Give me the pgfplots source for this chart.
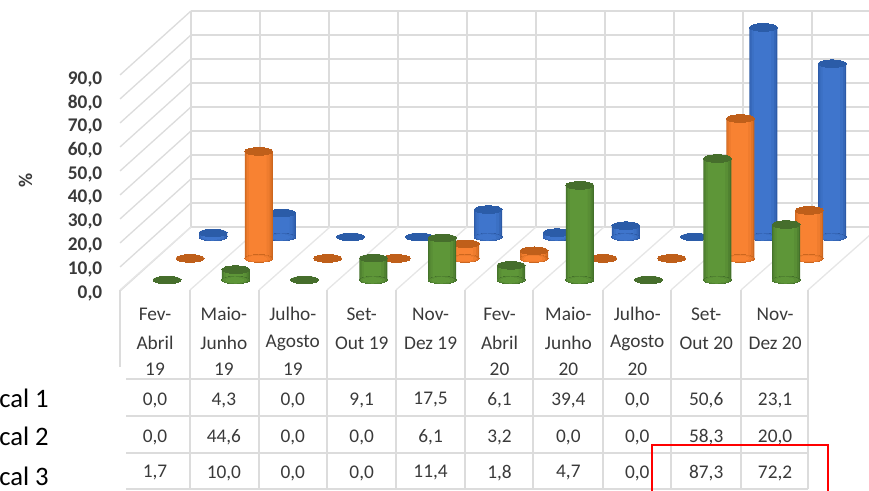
\documentclass[border=0pt]{standalone}
\usepackage{fontspec}
\setmainfont{Carlito}
\usepackage{pgfplots}
\usepackage{pgfplotstable}
\pgfplotsset{compat=1.18}

% Survey percentages per period: Local 1, Local 2, Local 3
\pgfplotstableread{
i  a     b     c
0  0.0   0.0   1.7
1  4.3   44.6  10.0
2  0.0   0.0   0.0
3  9.1   0.0   0.0
4  17.5  6.1   11.4
5  6.1   3.2   1.8
6  39.4  0.0   4.7
7  0.0   0.0   0.0
8  50.6  58.3  87.3
9  23.1  20.0  72.2
}\surveydata

\definecolor{gridc}{HTML}{DCDCDC}
\definecolor{floorc}{HTML}{E6E6E6}
\definecolor{txt}{HTML}{3A3A3A}
\definecolor{bTop}{HTML}{2B5CA8}\definecolor{bDark}{HTML}{2C5AA6}\definecolor{bMid}{HTML}{3F75CC}
\definecolor{oTop}{HTML}{BF5F1A}\definecolor{oDark}{HTML}{CC661E}\definecolor{oMid}{HTML}{F88232}
\definecolor{gTop}{HTML}{466E2C}\definecolor{gDark}{HTML}{43702A}\definecolor{gMid}{HTML}{5E9638}

\pgfplotsset{
  layer/.style={
    scale only axis, width=516pt, height=162pt,
    xmin=-0.5, xmax=9.5, ymin=0, ymax=90,
    hide axis, clip=false, anchor=south west},
}
% One concentric slice of a cylinder row: column, colour, full width, sideways shift
\newcommand{\slice}[4]{%
  \addplot[only marks, mark=*, mark size=#3/2,
    mark options={yscale=0.27, xshift=#4, fill=#2, draw=#2, line width=0pt}]
    table[x=i, y expr=0] {\surveydata};
  \addplot[ybar, bar shift=#4, bar width=#3, draw=none, fill=#2,
    y filter/.expression={y==0 ? nan : y}]
    table[x=i, y=#1] {\surveydata};
}
% A whole depth row: column, edge colour, body colour, lid colour
\newcommand{\cylinders}[4]{%
  \slice{#1}{#2}{21pt}{0pt}
  \slice{#1}{#2!55!#3}{19.5pt}{-0.2pt}
  \slice{#1}{#2!20!#3}{17pt}{-0.4pt}
  \slice{#1}{#3}{13pt}{-0.7pt}
  \addplot[only marks, mark=*, mark size=10.5pt,
    mark options={yscale=0.27, fill=#4, draw=#4, line width=0pt}]
    table[x=i, y=#1] {\surveydata};
}

\begin{document}
\begin{tikzpicture}
\path[use as bounding box] (0,0) rectangle (651.75pt,368.25pt);

% Walls and floor, in a 869 x 491 grid measured from the top left corner
\begin{scope}[x=0.75pt, y=-0.75pt, yshift=368.25pt, gridc, line width=1pt]
  \foreach \k in {0,...,9} {
    \draw (191,{11+24*\k}) -- (869,{11+24*\k});
    \draw (120,{75+24*\k}) -- (191,{11+24*\k});
  }
  \foreach \k in {0,...,9}
    \draw ({191+69*\k},11) -- ({191+69*\k},227);
  \clip (0,0) rectangle (869,491);
  \foreach \x in {120,190,259,327,396,465,533,603,671,741,808}
    \draw[floorc] (\x,290) -- ++(71,-63);
  \draw (120,290) -- (120,367);
  \foreach \x in {190,259,327,396,465,533,603,671,741,808}
    \draw (\x,290) -- (\x,489);
  \foreach \y in {379,416,453,489}
    \draw (126,\y) -- (808,\y);
\end{scope}

% Value axis with its tick labels
\begin{axis}[
  scale only axis, width=1pt, height=160.5pt,
  at={(80.25pt,148.5pt)}, anchor=south west,
  xmin=0, xmax=1, ymin=0, ymax=90,
  axis x line=none, axis y line=left, axis line style={draw=none},
  major tick length=0pt, xtick=\empty,
  ytick={0,10,...,90},
  /pgf/number format/.cd, use comma, fixed, fixed zerofill, precision=1, assume math mode=true,
  /pgfplots/.cd,
  yticklabel style={font=\fontsize{14.5}{15}\selectfont\bfseries, text=txt},
  ylabel={\%},
  every axis y label/.style={at={(rel axis cs:0,0.5)}, xshift=-61pt, yshift=4pt,
    rotate=90, anchor=center, font=\fontsize{14.5}{15}\selectfont\bfseries, text=txt},
]
\addplot[draw=none] coordinates {(0,0) (1,90)};
\end{axis}

% Rear row: Local 3
\begin{axis}[layer, at={(133.95pt,190.5pt)}]
\cylinders{c}{bDark}{bMid}{bTop}
\end{axis}
% Middle row: Local 2
\begin{axis}[layer, at={(116.7pt,174.4pt)}]
\cylinders{b}{oDark}{oMid}{oTop}
\end{axis}
% Front row: Local 1
\begin{axis}[layer, at={(99.45pt,158.25pt)}]
\cylinders{a}{gDark}{gMid}{gTop}
\end{axis}

% Period names and the table of values
\begin{scope}[x=0.75pt, y=-0.75pt, yshift=368.25pt,
    nodes={font=\fontsize{14.5}{15}\selectfont, text=txt, inner sep=0pt, anchor=center},
    /pgf/number format/.cd, use comma, fixed, fixed zerofill, precision=1, assume math mode=true]
  \foreach \c/\l/\m/\n [count=\i from 0] in {
      Fev-/Abril/19, Maio-/Junho/19, Julho-/Agosto/19, Set-/Out 19/, Nov-/Dez 19/,
      Fev-/Abril/20, Maio-/Junho/20, Julho-/Agosto/20, Set-/Out 20/, Nov-/Dez 20/} {
    \path ({155+68.9*\i},314) node {\c} ({155+68.9*\i},343) node {\l} ({155+68.9*\i},369) node {\m};
  }
  \foreach \v [count=\i from 0] in {0.0,4.3,0.0,9.1,17.5,6.1,39.4,0.0,50.6,23.1}
    \path ({155+68.9*\i},400) node {\pgfmathprintnumber{\v}};
  \foreach \v [count=\i from 0] in {0.0,44.6,0.0,0.0,6.1,3.2,0.0,0.0,58.3,20.0}
    \path ({155+68.9*\i},437) node {\pgfmathprintnumber{\v}};
  \foreach \v [count=\i from 0] in {1.7,10.0,0.0,0.0,11.4,1.8,4.7,0.0,87.3,72.2}
    \path ({155+68.9*\i},473) node {\pgfmathprintnumber{\v}};

  \foreach \y/\t in {398/cal 1, 436/cal 2, 476/cal 3}
    \node[anchor=west, text=black, font=\fontsize{20}{22}\selectfont] at (-1,\y) {\t};

  \draw[red, line width=1.5pt] (652,491) -- (652,445) -- (828,445) -- (828,491);
\end{scope}
\end{tikzpicture}
\end{document}
